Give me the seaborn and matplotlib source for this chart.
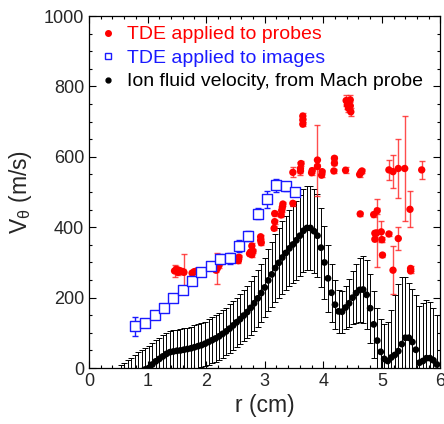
import matplotlib
matplotlib.use("Agg")
import matplotlib.pyplot as plt
from matplotlib.ticker import MultipleLocator
from matplotlib.lines import Line2D
import pandas as pd
import seaborn as sns

# Ion fluid velocity from Mach probe (black), r in cm, V in m/s
mach_r = [0.54, 0.60, 0.66, 0.72, 0.78, 0.84, 0.90, 0.96, 1.02, 1.08,
          1.14, 1.20, 1.26, 1.32, 1.38, 1.44, 1.50, 1.56, 1.62, 1.68,
          1.74, 1.80, 1.86, 1.92, 1.98, 2.04, 2.10, 2.16, 2.22, 2.28,
          2.34, 2.40, 2.46, 2.52, 2.58, 2.64, 2.70, 2.76, 2.82, 2.88,
          2.94, 3.00, 3.06, 3.12, 3.18, 3.24, 3.30, 3.36, 3.42, 3.48,
          3.54, 3.60, 3.66, 3.72, 3.78, 3.84, 3.90, 3.96, 4.02, 4.08,
          4.14, 4.20, 4.26, 4.32, 4.38, 4.44, 4.50, 4.56, 4.62, 4.68,
          4.74, 4.80, 4.86, 4.92, 4.98, 5.04, 5.10, 5.16, 5.22, 5.28,
          5.34, 5.40, 5.46, 5.52, 5.58, 5.64, 5.70, 5.76, 5.82, 5.88,
          5.94]
mach_v = [-52, -45, -38, -31, -23, -15, -9, -4, 0, 10,
          19, 26, 33, 40, 45, 47, 49, 50, 52, 54,
          56, 59, 62, 65, 69, 74, 79, 84, 90, 97,
          104, 112, 121, 130, 139, 149, 159, 171, 184, 198,
          213, 229, 249, 266, 284, 299, 314, 327, 340, 351,
          363, 376, 390, 398, 398, 389, 376, 342, 300, 255,
          214, 180, 161, 160, 172, 184, 200, 213, 222, 223,
          208, 170, 124, 78, 46, 26, 20, 30, 37, 48,
          68, 86, 86, 74, 52, 15, 20, 28, 28, 22,
          10]
mach_err = [60, 60, 60, 60, 60, 60, 60, 60, 62, 62,
            62, 60, 60, 60, 60, 60, 60, 60, 61, 61,
            61, 62, 62, 62, 63, 64, 65, 66, 67, 68,
            68, 69, 70, 70, 71, 72, 74, 76, 78, 80,
            82, 84, 88, 92, 96, 100, 104, 106, 108, 110,
            112, 115, 118, 120, 120, 120, 118, 112, 104, 95,
            82, 70, 62, 60, 62, 68, 75, 84, 92, 95,
            98, 98, 96, 94, 92, 100, 110, 135, 170, 190,
            190, 172, 155, 150, 156, 160, 165, 165, 160, 150,
            140]

# TDE applied to images (blue open squares)
img_r = [0.79, 0.95, 1.12, 1.28, 1.44, 1.60, 1.76, 1.92, 2.08, 2.24,
         2.40, 2.56, 2.72, 2.88, 3.04, 3.20, 3.36, 3.52]
img_v = [119, 129, 151, 172, 198, 221, 247, 274, 290, 310,
         312, 347, 375, 439, 479, 519, 517, 500]
img_err = [27, 4, 4, 4, 4, 4, 4, 6, 12, 14,
           15, 17, 15, 15, 24, 18, 13, 8]

# TDE applied to probes (red dots)
prb_r = [1.46, 1.49, 1.52, 1.55, 1.60, 1.62, 1.76, 1.80, 1.84,
         2.17, 2.19, 2.22, 2.52, 2.54, 2.56, 2.55,
         2.74, 2.76, 2.78, 2.80, 2.78, 2.93, 2.93, 2.94,
         3.16, 3.17, 3.17, 3.28, 3.29, 3.30, 3.31,
         3.48, 3.48, 3.61, 3.61, 3.62, 3.65, 3.65, 3.65,
         3.80, 3.81, 3.90, 3.90, 3.97, 3.98,
         4.18, 4.19, 4.19, 4.38,
         4.39, 4.41, 4.43, 4.46, 4.46, 4.47,
         4.62, 4.64, 4.66, 4.63, 4.86, 4.88, 4.88, 4.92, 4.91,
         4.99, 5.00, 5.01, 5.12, 5.12, 5.19, 5.19, 5.28, 5.28,
         5.39, 5.48, 5.49, 5.49, 5.68]
prb_v = [276, 280, 272, 277, 274, 272, 270, 274, 276,
         278, 283, 292, 308, 312, 315, 305,
         325, 330, 322, 332, 347, 373, 363, 356,
         397, 416, 439, 435, 448, 457, 466,
         468, 556, 560, 567, 581, 693, 705, 716,
         555, 561, 591, 573, 548, 558,
         560, 582, 596, 562,
         760, 748, 738, 762, 745, 728,
         550, 556, 560, 438, 436, 383, 366, 447, 384,
         387, 365, 321, 563, 381, 558, 278, 567, 368,
         567, 451, 276, 283, 563]
prb_err = [18, 10, 8, 8, 8, 52, 6, 6, 6,
           6, 43, 8, 8, 8, 6, 6,
           8, 6, 6, 6, 8, 6, 6, 6,
           6, 6, 6, 6, 6, 6, 6,
           8, 14, 6, 18, 8, 6, 6, 8,
           6, 6, 101, 8, 6, 6,
           6, 6, 6, 8,
           15, 12, 10, 15, 10, 12,
           6, 6, 6, 6, 6, 6, 6, 8, 97,
           30, 8, 6, 29, 6, 47, 69, 85, 33,
           150, 51, 6, 6, 25]

mach = pd.DataFrame({"r": mach_r, "v": mach_v})
img = pd.DataFrame({"r": img_r, "v": img_v})
prb = pd.DataFrame({"r": prb_r, "v": prb_v})

sns.set_style("ticks")
plt.rcParams["font.family"] = ["Liberation Sans", "DejaVu Sans"]
plt.rcParams["mathtext.fontset"] = "custom"
plt.rcParams["mathtext.rm"] = "Liberation Sans"
plt.rcParams["mathtext.it"] = "Liberation Sans"

fig = plt.figure(figsize=(4.44, 4.24), dpi=100)
ax = fig.add_axes([0.2005, 0.132, 0.7915, 0.830])

# Mach probe
ax.errorbar(mach_r, mach_v, yerr=mach_err, fmt="none", ecolor="black",
            elinewidth=0.7, capsize=2.2, capthick=0.7, zorder=2)
sns.scatterplot(data=mach, x="r", y="v", color="black", s=24,
                edgecolor="none", ax=ax, zorder=3)

# TDE on probes
ax.errorbar(prb_r, prb_v, yerr=prb_err, fmt="none", ecolor="#ff2020",
            elinewidth=1.0, capsize=2.2, capthick=1.0, alpha=0.8, zorder=4)
sns.scatterplot(data=prb, x="r", y="v", color="#ff0000", s=28,
                edgecolor="none", ax=ax, zorder=5)

# TDE on images
ax.errorbar(img_r, img_v, yerr=img_err, fmt="none", ecolor="#1a1aff",
            elinewidth=1.0, capsize=2.2, capthick=1.0, zorder=4)
sns.scatterplot(data=img, x="r", y="v", marker="s", s=48,
                facecolor="white", edgecolor="#1a1aff", linewidth=1.0,
                ax=ax, zorder=6)

ax.set_xlim(0, 6)
ax.set_ylim(0, 1000)
ax.xaxis.set_major_locator(MultipleLocator(1))
ax.xaxis.set_minor_locator(MultipleLocator(0.2))
ax.yaxis.set_major_locator(MultipleLocator(200))
ax.yaxis.set_minor_locator(MultipleLocator(50))
ax.tick_params(which="both", direction="in", top=True, right=True,
               labelsize=13, color="black", width=0.8)
ax.tick_params(which="major", length=5)
ax.tick_params(which="minor", length=2.5)
for s in ax.spines.values():
    s.set_color("black")
    s.set_linewidth(0.9)

ax.set_xlabel("r (cm)", fontsize=16.5, labelpad=3)
ax.set_ylabel(r"V$_\theta$ (m/s)", fontsize=16.5, labelpad=7)

handles = [
    Line2D([], [], ls="none", marker="o", ms=4, color="#ff0000"),
    Line2D([], [], ls="none", marker="s", ms=5, mfc="white",
           mec="#1a1aff", mew=1.0),
    Line2D([], [], ls="none", marker="o", ms=3.5, color="black"),
]
labels = ["TDE applied to probes", "TDE applied to images",
          "Ion fluid velocity, from Mach probe"]
leg = ax.legend(handles, labels, loc="upper left", frameon=False,
                fontsize=14, handletextpad=0.45, labelspacing=0.3,
                borderaxespad=0.2, borderpad=0.3, handlelength=1.0)
for t, c in zip(leg.get_texts(), ["#ff0000", "#1a1aff", "black"]):
    t.set_color(c)

fig.savefig("out.png", dpi=100)
